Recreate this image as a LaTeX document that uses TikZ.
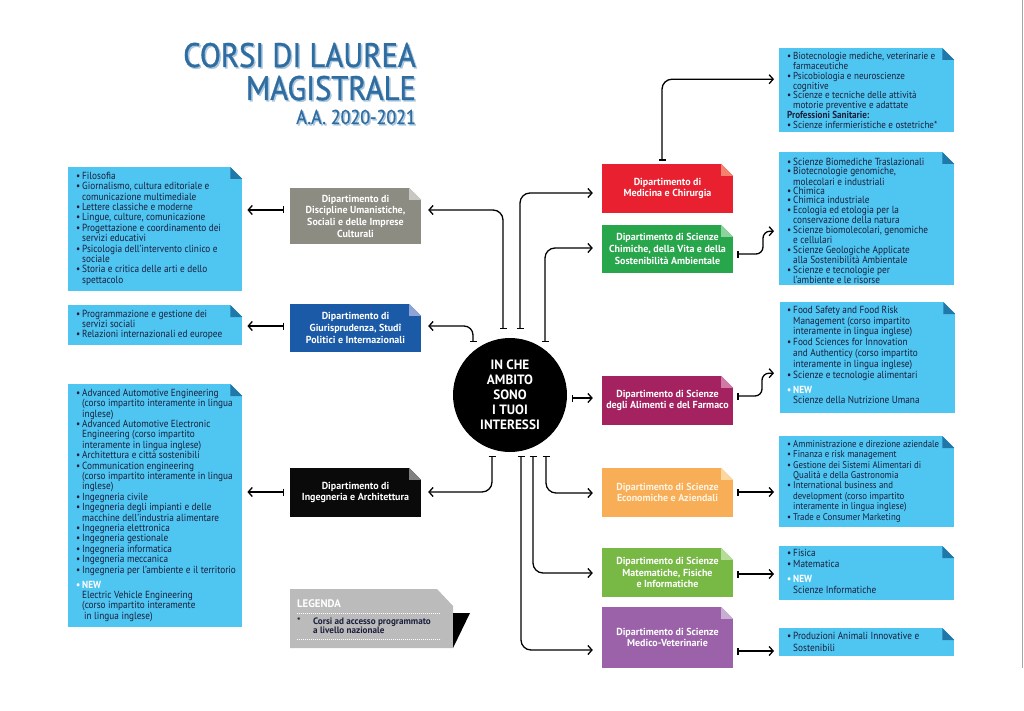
\documentclass[tikz,border=0pt]{standalone}
\usepackage{fontspec}
\setmainfont{PT Sans}[FakeStretch=0.9]
\newfontfamily\titlefont{PT Sans}[FakeStretch=0.9,FakeBold=1]
\newfontfamily\deptfont{PT Sans}[FakeStretch=0.98]
\usetikzlibrary{arrows.meta,calc}
\definecolor{lblue}{HTML}{4FC5F1}
\definecolor{lfold}{HTML}{1F78A8}
\definecolor{navy}{HTML}{1B1F3B}
\definecolor{cgray}{HTML}{8C8C83}\definecolor{fgray}{HTML}{C8C8C2}
\definecolor{cgiur}{HTML}{1A5AA6}\definecolor{fgiur}{HTML}{8FA3D6}
\definecolor{cing}{HTML}{0A0A0A}\definecolor{fing}{HTML}{808080}
\definecolor{cmed}{HTML}{E8202F}\definecolor{fmed}{HTML}{F5826E}
\definecolor{cchim}{HTML}{27A64B}\definecolor{fchim}{HTML}{8DD39E}
\definecolor{calim}{HTML}{A3225F}\definecolor{falim}{HTML}{D27AA6}
\definecolor{cecon}{HTML}{F7AE56}\definecolor{fecon}{HTML}{FCD7A0}
\definecolor{cmat}{HTML}{77B944}\definecolor{fmat}{HTML}{B5DC98}
\definecolor{cvet}{HTML}{9B62A9}\definecolor{fvet}{HTML}{C8AED2}
\definecolor{titleblue}{HTML}{2F6C9F}
\definecolor{shadowblue}{HTML}{A9C6DE}
\definecolor{leggray}{HTML}{BBBBBB}
\definecolor{econtext}{HTML}{FFF3E2}
\newcommand\bu{\makebox[6pt][l]{•}}
\newcommand\ct{\hspace*{6pt}}
\newcommand\fst{\rule{0pt}{8pt}}
\newcommand\dofold[3]{%
  \fill[white] (#1.north east) -- ++(-#3,0) -- ++(#3,#3) -- cycle;
  \fill[#2] ($(#1.north east)+(-#3,0)$) -- ++(#3,#3) -- ++(-#3,0) -- cycle;}
\begin{document}
\begin{tikzpicture}[x=1pt,y=-1pt,
  bconn/.style={line width=1.3pt, draw=black, {Bar[width=7pt]}-{Straight Barb[length=4pt,width=9pt]}},
  dept/.style={rectangle, inner sep=0pt, minimum width=131pt, text=white, align=center,
    font={\deptfont\fontsize{10.2}{11.7}\selectfont\bfseries}},
  lbox/.style={rectangle, fill=lblue, inner sep=0pt, anchor=north west},
  ltext/.style={anchor=north west, inner sep=0pt, align=left, text=navy},
  ttl/.style={anchor=base east, inner sep=0pt}]
\useasboundingbox (0,0) rectangle (1024,711);
\fill[white] (0,0) rectangle (1024,711);
% right border
\draw[line width=1.5pt, gray!70] (1022.5,0) -- (1022.5,668);

% title
\foreach \dx/\col in {1.5/shadowblue,0/titleblue}{
  \node[ttl, text=\col, font={\titlefont\fontsize{34}{34}\selectfont}] at (416+\dx,67+\dx) {CORSI DI LAUREA};
  \node[ttl, text=\col, font={\titlefont\fontsize{34}{34}\selectfont}] at (416+\dx,100+\dx) {MAGISTRALE};
  \node[ttl, text=\col, font={\titlefont\fontsize{20}{20}\selectfont}] at (416+\dx,124+\dx) {A.A. 2020-2021};
}

% list boxes
\node[lbox, minimum width=174pt, minimum height=124pt] (L1) at (68,167) {};
\node[lbox, minimum width=174pt, minimum height=40pt] (L2) at (68,305) {};
\node[lbox, minimum width=174pt, minimum height=243pt] (L3) at (68,384) {};
\node[lbox, minimum width=175pt, minimum height=84pt] (R1) at (779,48) {};
\node[lbox, minimum width=175pt, minimum height=133pt] (R2) at (779,152) {};
\node[lbox, minimum width=175pt, minimum height=111pt] (R3) at (780,302) {};
\node[lbox, minimum width=175pt, minimum height=91pt] (R4) at (779,436) {};
\node[lbox, minimum width=175pt, minimum height=54pt] (R5) at (779,546) {};
\node[lbox, minimum width=175pt, minimum height=28pt] (R6) at (779,628) {};
\foreach \n in {L1,L2,L3,R1,R2,R3,R4,R5,R6}{\dofold{\n}{lfold}{12}}

% list texts
\node[ltext, font={\fontsize{10.3}{10.4}\selectfont}] (L1t) at (76,171) {%
\bu\fst Filosofia\\
\bu Giornalismo, cultura editoriale e\\
\ct comunicazione multimediale\\
\bu Lettere classiche e moderne\\
\bu Lingue, culture, comunicazione\\
\bu Progettazione e coordinamento dei\\
\ct servizi educativi\\
\bu Psicologia dell’intervento clinico e\\
\ct sociale\\
\bu Storia e critica delle arti e dello\\
\ct spettacolo};
\node[ltext, font={\fontsize{10.3}{10.2}\selectfont}] (L2t) at (76,309) {%
\bu\fst Programmazione e gestione dei\\
\ct servizi sociali\\
\bu Relazioni internazionali ed europee};
\node[ltext, font={\fontsize{10.3}{10.4}\selectfont}] (L3t) at (76,388) {%
\bu\fst Advanced Automotive Engineering\\
\ct (corso impartito interamente in lingua\\
\ct inglese)\\
\bu Advanced Automotive Electronic\\
\ct Engineering (corso impartito\\
\ct interamente in lingua inglese)\\
\bu Architettura e città sostenibili\\
\bu Communication engineering\\
\ct (corso impartito interamente in lingua\\
\ct inglese)\\
\bu Ingegneria civile\\
\bu Ingegneria degli impianti e delle\\
\ct macchine dell’industria alimentare\\
\bu Ingegneria elettronica\\
\bu Ingegneria gestionale\\
\bu Ingegneria informatica\\
\bu Ingegneria meccanica\\
\bu Ingegneria per l’ambiente e il territorio\\[4.6pt]
{\color{white}\bfseries\bu NEW}\\
\ct Electric Vehicle Engineering\\
\ct (corso impartito interamente\\
\ct\hspace*{2pt}in lingua inglese)};
\node[ltext, font={\fontsize{10.1}{9.8}\selectfont}] (R1t) at (787,51.5) {%
\bu\fst Biotecnologie mediche, veterinarie e\\
\ct farmaceutiche\\
\bu Psicobiologia e neuroscienze\\
\ct cognitive\\
\bu Scienze e tecniche delle attività\\
\ct motorie preventive e adattate\\
{\bfseries Professioni Sanitarie:}\\
\bu Scienze infermieristiche e ostetriche*};
\node[ltext, font={\fontsize{10.3}{9.4}\selectfont}] (R2t) at (787,157) {%
\bu\fst Scienze Biomediche Traslazionali\\
\bu Biotecnologie genomiche,\\
\ct molecolari e industriali\\
\bu Chimica\\
\bu Chimica industriale\\
\bu Ecologia ed etologia per la\\
\ct conservazione della natura\\
\bu Scienze biomolecolari, genomiche\\
\ct e cellulari\\
\bu Scienze Geologiche Applicate\\
\ct alla Sostenibilità Ambientale\\
\bu Scienze e tecnologie per\\
\ct l’ambiente e le risorse};
\node[ltext, font={\fontsize{10.3}{10.8}\selectfont}] (R3t) at (787,305) {%
\bu\fst Food Safety and Food Risk\\
\ct Management (corso impartito\\
\ct interamente in lingua inglese)\\
\bu Food Sciences for Innovation\\
\ct and Authenticy (corso impartito\\
\ct interamente in lingua inglese)\\
\bu Scienze e tecnologie alimentari\\[4.2pt]
{\color{white}\bfseries\bu NEW}\\
\ct Scienze della Nutrizione Umana};
\node[ltext, font={\fontsize{9.8}{10.4}\selectfont}] (R4t) at (787,439) {%
\bu\fst Amministrazione e direzione aziendale\\
\bu Finanza e risk management\\
\bu Gestione dei Sistemi Alimentari di\\
\ct Qualità e della Gastronomia\\
\bu International business and\\
\ct development (corso impartito\\
\ct interamente in lingua inglese)\\
\bu Trade e Consumer Marketing};
\node[ltext, font={\fontsize{10.3}{11}\selectfont}] (R5t) at (787,548) {%
\bu\fst Fisica\\
\bu Matematica\\[4pt]
{\color{white}\bfseries\bu NEW}\\
\ct Scienze Informatiche};
\node[ltext, font={\fontsize{10.3}{11.8}\selectfont}] (R6t) at (787,631) {%
\bu\fst Produzioni Animali Innovative e\\
\ct Sostenibili};

% department boxes
\node[dept, fill=cgray, minimum height=56pt] (um) at (355.5,216) {Dipartimento di\\Discipline Umanistiche,\\Sociali e delle Imprese\\Culturali};
\node[dept, fill=cgiur, minimum height=48pt] (giur) at (355.5,328) {Dipartimento di\\Giurisprudenza, Studî\\Politici e Internazionali};
\node[dept, fill=cing, minimum height=49pt] (ing) at (355.5,492.5) {Dipartimento di\\Ingegneria e Architettura};
\node[dept, fill=cmed, minimum height=49pt] (med) at (667.5,188.5) {Dipartimento di\\Medicina e Chirurgia};
\node[dept, fill=cchim, minimum height=48pt] (chim) at (667.5,249) {Dipartimento di Scienze\\Chimiche, della Vita e della\\Sostenibilità Ambientale};
\node[dept, fill=calim, minimum height=49pt] (alim) at (667.5,400.5) {Dipartimento di Scienze\\degli Alimenti e del Farmaco};
\node[dept, fill=cecon, text=econtext, minimum height=49pt] (econ) at (667.5,492.5) {Dipartimento di Scienze\\Economiche e Aziendali};
\node[dept, fill=cmat, minimum height=49pt] (mat) at (667.5,572.5) {Dipartimento di Scienze\\Matematiche, Fisiche\\e Informatiche};
\node[dept, fill=cvet, minimum height=61pt] (vet) at (667.5,637.5) {Dipartimento di Scienze\\Medico-Veterinarie};
\dofold{um}{fgray}{12}\dofold{giur}{fgiur}{12}\dofold{ing}{fing}{12}
\dofold{med}{fmed}{12}\dofold{chim}{fchim}{12}\dofold{alim}{falim}{12}
\dofold{econ}{fecon}{12}\dofold{mat}{fmat}{12}\dofold{vet}{fvet}{12}

% central circle
\node[circle, fill=black, minimum size=114pt, inner sep=0pt, text=white, align=center,
  font={\deptfont\fontsize{13.5}{15}\selectfont\bfseries}] (c) at (510,395) {IN CHE\\AMBITO\\SONO\\I TUOI\\INTERESSI};

% connector start points near the circle
\coordinate (c1) at (503,329);
\coordinate (c2) at (520,329);
\coordinate (c3) at (545,342);
\coordinate (c4) at (473,342);
\coordinate (c5) at (572,398);
\coordinate (c6) at (492,456);
\coordinate (c7) at (546,456);
\coordinate (c8) at (533,456);
\coordinate (c9) at (521,456);

\draw[bconn, rounded corners=10pt] (c1) |- ($(um.east)+(7,-6)$);
\draw[bconn, rounded corners=10pt] (c2) |- ($(med.west)+(-9,4.5)$);
\draw[bconn, rounded corners=10pt] (c3) |- ($(chim.west)+(-9,-1)$);
\draw[bconn, rounded corners=9pt] (c4) |- ($(giur.east)+(7,-2)$);
\draw[bconn] (c5) -- ($(alim.west)+(-9,-2.5)$);
\draw[bconn, rounded corners=10pt] (c6) |- ($(ing.east)+(7,-0.5)$);
\draw[bconn, rounded corners=10pt] (c7) |- ($(econ.west)+(-9,0.5)$);
\draw[bconn, rounded corners=10pt] (c8) |- ($(mat.west)+(-9,0.5)$);
\draw[bconn, rounded corners=10pt] (c9) |- ($(vet.west)+(-9,12.5)$);

% department -> list connectors
\coordinate (uma) at ($(um.west)+(0,-6)$);
\coordinate (gia) at ($(giur.west)+(0,-2)$);
\coordinate (inga) at ($(ing.west)+(0,-0.5)$);
\coordinate (eca) at ($(econ.east)+(0,-0.5)$);
\coordinate (maa) at ($(mat.east)+(0,1.5)$);
\coordinate (vea) at ($(vet.east)+(0,13.5)$);
\draw[bconn, shorten <=6pt, shorten >=5pt] (uma) -- (uma -| L1.east);
\draw[bconn, shorten <=6pt, shorten >=5pt] (gia) -- (gia -| L2.east);
\draw[bconn, shorten <=6pt, shorten >=5pt] (inga) -- (inga -| L3.east);
\draw[bconn, shorten <=4pt, shorten >=5pt] (eca) -- (eca -| R4.west);
\draw[bconn, shorten <=4pt, shorten >=5pt] (maa) -- (maa -| R5.west);
\draw[bconn, shorten <=4pt, shorten >=5pt] (vea) -- (vea -| R6.west);

\coordinate (mr) at ($(R1.west)+(-5,-11)$);
\draw[bconn, rounded corners=10pt, shorten <=3pt] ($(med.north)+(-5.5,0)$) |- (mr);
\coordinate (chs) at ($(chim.east)+(4,5)$);
\coordinate (r2a) at ($(R2.west)+(-5,12.5)$);
\draw[bconn, rounded corners=7pt] (chs) -| ($(r2a)+(-11,0)$) -- (r2a);
\coordinate (als) at ($(alim.east)+(4,-4.5)$);
\coordinate (r3a) at ($(R3.west)+(-6,15.5)$);
\draw[bconn, rounded corners=7pt] (als) -| ($(r3a)+(-12,0)$) -- (r3a);

% legend
\fill[leggray] (290,589) -- (437,589) -- (453,606) -- (453,648) -- (290,648) -- cycle;
\fill[black] (453,613) -- (470,613) -- (453,648) -- cycle;
\node[anchor=base west, inner sep=0pt, text=white, font={\deptfont\fontsize{11}{11}\selectfont\bfseries}] (lg) at (297,607) {LEGENDA};
\draw[white, line width=0.9pt, dash pattern=on 0.9pt off 1.1pt] (297,613) -- (441,613);
\node[anchor=base west, inner sep=0pt, text=navy, font={\deptfont\fontsize{9.3}{9}\selectfont\bfseries}] (ls) at (297,624) {*};
\node[ltext, font={\deptfont\fontsize{9.3}{9.2}\selectfont\bfseries}] (lt) at (313,617) {\rule{0pt}{7pt}Corsi ad accesso programmato\\a livello nazionale};
\draw[white, line width=0.9pt, dash pattern=on 0.9pt off 1.1pt] (297,639) -- (441,639);
\end{tikzpicture}
\end{document}
